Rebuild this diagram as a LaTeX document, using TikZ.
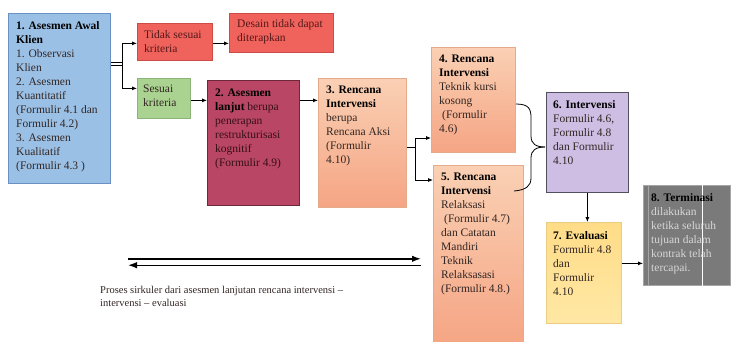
\documentclass[tikz,border=0pt]{standalone}
\usepackage{fontspec}
\setmainfont{Liberation Serif}
\usetikzlibrary{arrows.meta,calc}
\definecolor{blueF}{RGB}{155,192,230}
\definecolor{blueD}{RGB}{105,145,195}
\definecolor{redF}{RGB}{240,98,92}
\definecolor{redD}{RGB}{205,75,70}
\definecolor{greenF}{RGB}{170,210,145}
\definecolor{greenD}{RGB}{140,180,120}
\definecolor{maroonF}{RGB}{185,70,100}
\definecolor{maroonD}{RGB}{110,40,60}
\definecolor{peachT}{RGB}{250,208,180}
\definecolor{peachB}{RGB}{245,165,132}
\definecolor{peachD}{RGB}{228,170,140}
\definecolor{lavF}{RGB}{206,190,228}
\definecolor{lavD}{RGB}{80,80,95}
\definecolor{yelT}{RGB}{255,220,135}
\definecolor{yelB}{RGB}{255,232,165}
\definecolor{yelD}{RGB}{235,205,130}
\definecolor{grayF}{RGB}{122,122,122}
\definecolor{grayD}{RGB}{165,165,165}
\definecolor{bodyC}{RGB}{50,38,35}
\definecolor{redtxt}{RGB}{85,25,25}
\definecolor{mtxt}{RGB}{55,15,25}
\definecolor{lighttxt}{RGB}{215,215,215}
\begin{document}
\begin{tikzpicture}[x=1pt,y=-1pt,
  box/.style={draw, rectangle, anchor=north west, inner sep=0pt, line width=0.7pt},
  txt/.style={anchor=north west, align=left, inner sep=0pt, font=\fontsize{11.5}{14}\selectfont, text=bodyC},
  arr/.style={-{Latex[length=5pt,width=4pt]}, line width=0.8pt},
  bigarr/.style={-{Latex[length=9pt,width=6.5pt]}, line width=1.4pt},
  ln/.style={line width=0.8pt}]
\useasboundingbox (0,0) rectangle (731,341);
\clip (0,0) rectangle (731,341);
\fill[white] (0,0) rectangle (731,341);

% boxes
\node[box, fill=blueF, draw=blueD, minimum width=102pt, minimum height=170pt] (b1) at (8,13) {};
\node[box, fill=redF, draw=redD, minimum width=75pt, minimum height=37pt] (tidak) at (137,23) {};
\node[box, fill=redF, draw=redD, minimum width=104pt, minimum height=39pt] (desain) at (229,13) {};
\node[box, fill=greenF, draw=greenD, minimum width=53pt, minimum height=40pt] (sesuai) at (137,78) {};
\node[box, fill=maroonF, draw=maroonD, minimum width=92pt, minimum height=125pt] (b2) at (207,80) {};
\node[box, top color=peachT, bottom color=peachB, draw=peachD, minimum width=88pt, minimum height=129pt] (b3) at (318,78) {};
\node[box, top color=peachT, bottom color=peachB, draw=peachD, minimum width=84pt, minimum height=105pt] (b4) at (431,47) {};
\node[box, top color=peachT, bottom color=peachB, draw=peachD, minimum width=90pt, minimum height=180pt] (b5) at (433,165) {};
\node[box, fill=lavF, draw=lavD, minimum width=82pt, minimum height=100pt] (b6) at (546,92) {};
\node[box, top color=yelT, bottom color=yelB, draw=yelD, minimum width=75pt, minimum height=101pt] (b7) at (546,222) {};
\node[box, fill=grayF, draw=grayD, minimum width=87pt, minimum height=100pt] (b8) at (643,185) {};
\draw[white, line width=1pt] ([xshift=59pt]b8.north west) -- ([xshift=59pt]b8.south west);
\draw[grayD, line width=1pt] ([xshift=5pt]b8.north west) -- ([xshift=5pt]b8.south west);

% texts
\node[txt] (t1) at ([shift={(8,8)}]b1.north west) {\textcolor{black}{\textbf{1. Asesmen Awal}}\\\textcolor{black}{\textbf{Klien}}\\1. Observasi\\Klien\\2. Asesmen\\Kuantitatif\\(Formulir 4.1 dan\\Formulir 4.2)\\3. Asesmen\\Kualitatif\\(Formulir 4.3 )};
\node[txt, text=redtxt] (tt) at ([shift={(7,7)}]tidak.north west) {Tidak sesuai\\kriteria};
\node[txt, text=redtxt] (td) at ([shift={(8,6)}]desain.north west) {Desain tidak dapat\\diterapkan};
\node[txt] (ts) at ([shift={(6,7)}]sesuai.north west) {Sesuai\\kriteria};
\node[txt, text=mtxt] (t2) at ([shift={(8,9)}]b2.north west) {\textcolor{black}{\textbf{2. Asesmen}}\\\textcolor{black}{\textbf{lanjut}} berupa\\penerapan\\restrukturisasi\\kognitif\\(Formulir 4.9)};
\node[txt] (t3) at ([shift={(8,8)}]b3.north west) {\textcolor{black}{\textbf{3. Rencana}}\\\textcolor{black}{\textbf{Intervensi}}\\berupa\\Rencana Aksi\\(Formulir\\4.10)};
\node[txt] (t4) at ([shift={(8,8)}]b4.north west) {\textcolor{black}{\textbf{4. Rencana}}\\\textcolor{black}{\textbf{Intervensi}}\\Teknik kursi\\kosong\\\hspace{3pt}(Formulir\\4.6)};
\node[txt] (t5) at ([shift={(8,8)}]b5.north west) {\textcolor{black}{\textbf{5. Rencana}}\\\textcolor{black}{\textbf{Intervensi}}\\Relaksasi\\\hspace{3pt}(Formulir 4.7)\\dan Catatan\\Mandiri\\Teknik\\Relaksasasi\\(Formulir 4.8.)};
\node[txt] (t6) at ([shift={(7,8)}]b6.north west) {\textcolor{black}{\textbf{6. Intervensi}}\\Formulir 4.6,\\Formulir 4.8\\dan Formulir\\4.10};
\node[txt] (t7) at ([shift={(7,9)}]b7.north west) {\textcolor{black}{\textbf{7. Evaluasi}}\\Formulir 4.8\\dan\\Formulir\\4.10};
\node[txt, text=lighttxt] (t8) at ([shift={(8,8)}]b8.north west) {\textcolor{black}{\textbf{8. Terminasi}}\\dilakukan\\ketika seluruh\\tujuan dalam\\kontrak telah\\tercapai.};

% connectors
\coordinate (s1) at (122,64);
\draw[ln] ([yshift=1.6pt]b1.east |- s1) -- ([yshift=1.6pt]s1);
\draw[ln] ([yshift=-1.6pt]b1.east |- s1) -- ([yshift=-1.6pt]s1);
\draw[arr] (s1) |- ([yshift=-1.5pt]tidak.west);
\draw[arr] (s1) |- ([yshift=10pt]sesuai.west);
\draw[arr] ([yshift=-1.5pt]tidak.east) -- ([yshift=-1.5pt]tidak.east -| desain.west);
\coordinate (r1) at ([yshift=-2pt]sesuai.east);
\draw[arr] (r1) -- (r1 -| b2.west);
\draw[arr] (r1 -| b2.east) -- (r1 -| b3.west);
\coordinate (s2) at (415,147);
\coordinate (y4) at (0,138);
\coordinate (y5) at (0,180);
\draw[ln] (s2 -| b3.east) -- (s2);
\draw[arr] (s2) |- (b4.west |- y4);
\draw[arr] (s2) |- (b5.west |- y5);
% brace
\coordinate (bt) at (545,147);
\draw[ln] (516,104) .. controls (529,104) and (531,109) .. (531,118) -- (531,136) .. controls (531,144) and (536,147) .. (bt);
\draw[ln] (bt) .. controls (536,147) and (531,150) .. (531,158) -- (531,178) .. controls (531,186) and (526,190) .. (514,191);
\draw[arr] (b6.south) -- (b6.south |- b7.north);
\coordinate (r3) at ([yshift=9.5pt]b7.east);
\draw[arr] (r3) -- (r3 -| b8.west);
% circular arrows
\coordinate (dl) at (128,262);
\coordinate (dr) at (421,262);
\draw[bigarr] ([yshift=3.2pt]dl) -- ([yshift=3.2pt]dr);
\draw[bigarr] ([yshift=-3.2pt]dr) -- ([yshift=-3.2pt]dl);
\node[anchor=north west, align=left, inner sep=0pt, font=\fontsize{10.5}{13.5}\selectfont, text=bodyC] (cap) at (100,286) {Proses sirkuler dari asesmen lanjutan rencana intervensi --\\intervensi -- evaluasi};
\end{tikzpicture}
\end{document}
